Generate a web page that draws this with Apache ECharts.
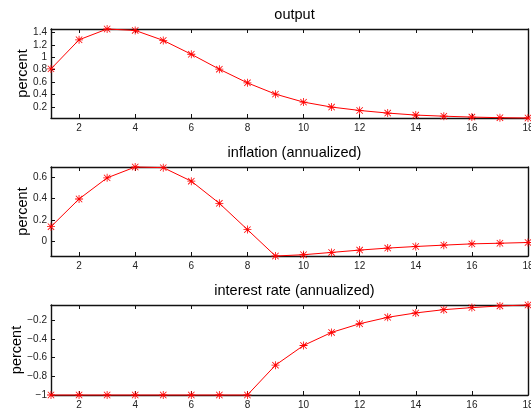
<!DOCTYPE html>
<html><head><meta charset="utf-8">
<script src="https://cdn.jsdelivr.net/npm/echarts@6/dist/echarts.min.js"></script>
<style>html,body{margin:0;padding:0;background:#fff}#c{width:531px;height:413px}</style>
</head><body><div id="c"></div>
<script>
const periods = [1,2,3,4,5,6,7,8,9,10,11,12,13,14,15,16,17,18];
const output = [0.813,1.28,1.453,1.43,1.27,1.048,0.808,0.589,0.408,0.28,0.2,0.146,0.104,0.072,0.054,0.04,0.03,0.025];
const inflation = [0.135,0.397,0.597,0.70,0.694,0.566,0.356,0.107,-0.143,-0.131,-0.109,-0.087,-0.068,-0.053,-0.040,-0.028,-0.022,-0.015];
const interest = [-1,-1,-1,-1,-1,-1,-1,-1,-0.68,-0.469,-0.329,-0.236,-0.167,-0.12,-0.085,-0.063,-0.045,-0.035];
const xTicks = [2,4,6,8,10,12,14,16,18];
const yTicks1 = [0.2,0.4,0.6,0.8,1,1.2,1.4];
const yTicks2 = [0,0.2,0.4,0.6];
const yTicks3 = [-1,-0.8,-0.6,-0.4,-0.2];
const titles = ['output','inflation (annualized)','interest rate (annualized)'];
const yName = 'percent';

const FONT = 'Liberation Sans, Arial, sans-serif';
const star = 'path://M9 0H11V20H9Z M0 9H20V11H0Z M2.7 1.3L18.7 17.3L17.3 18.7L1.3 2.7Z M17.3 1.3L18.7 2.7L2.7 18.7L1.3 17.3Z';
const grids = [{top:29,height:89,gap:21},{top:167,height:89,gap:21},{top:305,height:90,gap:27}];
const yTicks = [yTicks1,yTicks2,yTicks3];
const datas = [output,inflation,interest];
const fmt = v => { let s = String(Math.round(v*10)/10); return s.replace('-', '\u2212'); };

const option = {animation:false, backgroundColor:'#fff', title:[], grid:[], xAxis:[], yAxis:[], series:[]};
const line = {show:true, onZero:false, lineStyle:{color:'#111', width:1.4}};
const tick = (vals) => ({show:true, inside:true, length:4, lineStyle:{color:'#111', width:1}, customValues: vals});
for (let i=0;i<3;i++){
  const g = grids[i];
  option.grid.push({left:51, right:3, top:g.top, height:g.height, containLabel:false, outerBoundsMode:'none'});
  option.title.push({text:titles[i], left:289.5, textAlign:'center', top:g.top-27,
    textStyle:{fontFamily:FONT, fontSize:14.5, fontWeight:'normal', color:'#000'}});
  option.xAxis.push({type:'value', gridIndex:i, min:1, max:18, position:'bottom',
    axisLine:line, axisTick:tick(xTicks), splitLine:{show:false},
    axisLabel:{customValues:xTicks, fontFamily:FONT, fontSize:10, color:'#222', margin:5}});
  option.xAxis.push({type:'value', gridIndex:i, min:1, max:18, position:'top',
    axisLine:line, axisTick:tick(xTicks), splitLine:{show:false}, axisLabel:{show:false}});
  option.yAxis.push({type:'value', gridIndex:i, min:'dataMin', max:'dataMax', position:'left',
    axisLine:line, axisTick:tick(yTicks[i]), splitLine:{show:false},
    name:yName, nameLocation:'middle', nameGap:g.gap, nameRotate:90, nameMoveOverlap:false,
    nameTextStyle:{fontFamily:FONT, fontSize:14.5, color:'#000'},
    axisLabel:{customValues:yTicks[i], formatter:fmt, fontFamily:FONT, fontSize:10, color:'#222', margin:4}});
  option.yAxis.push({type:'value', gridIndex:i, min:'dataMin', max:'dataMax', position:'right',
    axisLine:line, axisTick:tick(yTicks[i]), splitLine:{show:false}, axisLabel:{show:false}});
  option.series.push({type:'line', xAxisIndex:2*i, yAxisIndex:2*i,
    data: periods.map((p,k)=>[p, datas[i][k]]),
    lineStyle:{color:'#ff0000', width:1}, itemStyle:{color:'#ff0000'},
    symbol:star, symbolSize:8, showSymbol:true, clip:false});
}
const chart = echarts.init(document.getElementById('c'), null, {renderer:'canvas'});
chart.setOption(option);
</script></body></html>
